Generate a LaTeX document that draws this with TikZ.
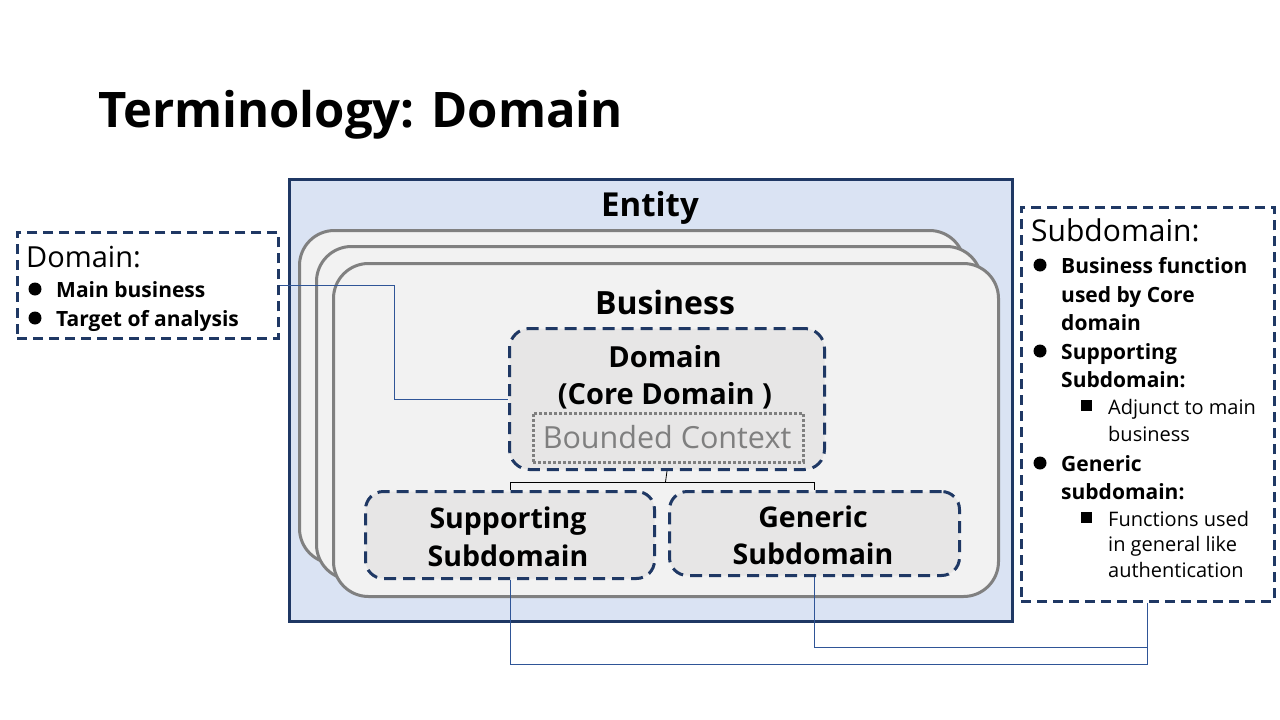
\documentclass[tikz,border=0pt]{standalone}
\usepackage{fontspec}
\setmainfont{Open Sans}
\newcommand\myfs[1]{\fontsize{#1}{#1}\selectfont}
\definecolor{navy}{HTML}{1F3864}
\definecolor{entfill}{HTML}{DAE3F3}
\definecolor{bizfill}{HTML}{F2F2F2}
\definecolor{bizline}{HTML}{808080}
\definecolor{domfill}{HTML}{E7E6E6}
\definecolor{connblue}{HTML}{2F5597}
\definecolor{bcgray}{HTML}{7F7F7F}
\tikzset{
  entitybox/.style={draw=navy, line width=3pt, fill=entfill, anchor=north west, inner sep=0pt},
  bizbox/.style={draw=bizline, line width=3pt, fill=bizfill, rounded corners=35pt, anchor=north west, minimum width=665pt, minimum height=333pt, inner sep=0pt},
  dashbox/.style={draw=navy, line width=3pt, dash pattern=on 12pt off 7pt, fill=domfill, rounded corners=20pt, anchor=north west, inner sep=0pt},
  notebox/.style={draw=navy, line width=2.5pt, dash pattern=on 10pt off 6pt, fill=white, anchor=north west, inner sep=0pt},
  bcbox/.style={draw=bcgray, line width=2.5pt, dash pattern=on 3pt off 2pt, anchor=north west, inner sep=0pt},
  tree/.style={draw=black, line width=0.8pt},
  conn/.style={draw=connblue, line width=1pt},
  txt/.style={inner sep=0pt, anchor=base west},
  ctxt/.style={inner sep=0pt, anchor=base},
}
\begin{document}
\begin{tikzpicture}[x=1pt,y=-1pt]
\useasboundingbox[fill=white] (0,0) rectangle (1280,720);

% title
\node[txt] (title) at (98,127) {\myfs{49}\bfseries Terminology: Domain};

% entity
\node[entitybox, minimum width=723pt, minimum height=442pt] (entity) at (288,178) {};
\node[ctxt] (entitylbl) at (650,216) {\myfs{33}\bfseries Entity};

% business stack
\node[bizbox] (biz3) at (298,229) {};
\node[bizbox] (biz2) at (315,245) {};
\node[bizbox] (biz1) at (332,262) {};
\node[ctxt] (bizlbl) at (665,314) {\myfs{32}\bfseries Business};

% domain box
\node[dashbox, minimum width=315pt, minimum height=141pt] (dom) at (508,327) {};
\node[ctxt] (domlbl1) at (665,367) {\myfs{29}\bfseries Domain};
\node[ctxt] (domlbl2) at (665,404) {\myfs{29}\bfseries (Core Domain )};
\node[bcbox, minimum width=270pt, minimum height=49pt] (bc) at (532,412) {};
\node[ctxt, text=bcgray] (bclbl) at (667,448) {\myfs{30.5}Bounded Context};

% subdomain boxes
\node[dashbox, rounded corners=18pt, minimum width=289pt, minimum height=87pt] (supp) at (364,490) {};
\node[ctxt] (supplbl1) at (508,528) {\myfs{28.5}\bfseries Supporting};
\node[ctxt] (supplbl2) at (508,566) {\myfs{28.5}\bfseries Subdomain};
\node[dashbox, rounded corners=18pt, minimum width=290pt, minimum height=84pt] (gen) at (668,490) {};
\node[ctxt] (genlbl1) at (813,527) {\myfs{28.5}\bfseries Generic};
\node[ctxt] (genlbl2) at (813,564) {\myfs{28.5}\bfseries Subdomain};

% tree connector
\coordinate (fork) at (665.5,482);
\draw[tree] (dom.south) -- (fork);
\draw[tree] (fork) -| (supp.north);
\draw[tree] (fork) -| (gen.north);

% left note
\node[notebox, minimum width=261pt, minimum height=106pt] (ldom) at (16,231) {};
\node[txt] (ldomh) at (26,267) {\myfs{29}Domain:};
\fill (35,289) circle (6.5pt);
\node[txt] (ldom1) at (56,297) {\myfs{21}\bfseries Main business};
\fill (35,318) circle (6.5pt);
\node[txt] (ldom2) at (56,326) {\myfs{21}\bfseries Target of analysis};

\draw[conn] (ldom.east) -- ++(115,0) |- (dom.west);

% right note
\node[notebox, minimum width=253pt, minimum height=394pt] (sub) at (1020,206) {};
\node[txt] (subh) at (1031,241) {\myfs{30}Subdomain:};
\fill (1040,265) circle (6.5pt);
\node[txt] (s1a) at (1061,273) {\myfs{21}\bfseries Business function};
\node[txt] (s1b) at (1061,302) {\myfs{21}\bfseries used by Core};
\node[txt] (s1c) at (1061,330) {\myfs{21}\bfseries domain};
\fill (1040,351) circle (6.5pt);
\node[txt] (s2a) at (1061,359) {\myfs{21}\bfseries Supporting};
\node[txt] (s2b) at (1061,387) {\myfs{21}\bfseries Subdomain:};
\fill (1081,400) rectangle (1092,411);
\node[txt] (s3a) at (1108,414) {\myfs{20}Adjunct to main};
\node[txt] (s3b) at (1108,441) {\myfs{20}business};
\fill (1040,463) circle (6.5pt);
\node[txt] (s4a) at (1061,471) {\myfs{21}\bfseries Generic};
\node[txt] (s4b) at (1061,499) {\myfs{21}\bfseries subdomain:};
\fill (1081,512) rectangle (1092,523);
\node[txt] (s5a) at (1108,526) {\myfs{20}Functions used};
\node[txt] (s5b) at (1108,551) {\myfs{20}in general like};
\node[txt] (s5c) at (1108,577) {\myfs{20}authentication};

% bottom connectors
\draw[conn] (supp.south) -- ++(0,84) -| (sub.south);
\draw[conn] (gen.south) -- ++(0,70) -| (sub.south);
\end{tikzpicture}
\end{document}
